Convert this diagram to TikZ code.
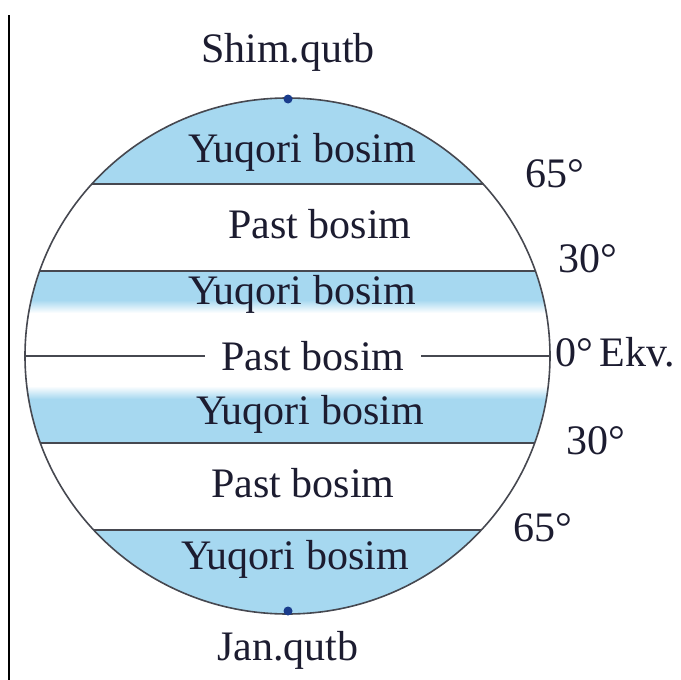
\documentclass[tikz,border=0pt]{standalone}
\usepackage{fontspec}
\setmainfont{Liberation Serif}
\usetikzlibrary{positioning}
\definecolor{beltblue}{RGB}{166,216,240}
\definecolor{inkblue}{RGB}{28,28,48}
\definecolor{linegray}{RGB}{70,72,80}
\definecolor{poleblue}{RGB}{25,60,140}

\begin{document}
\begin{tikzpicture}[
    x=0.5pt, y=-0.5pt,
    lbl/.style={font=\fontsize{21}{24}\selectfont, text=inkblue, inner sep=0pt},
    lat/.style={draw=linegray, line width=1pt},
    rim/.style={draw=linegray, line width=0.8pt}
]
    \useasboundingbox (0,0) rectangle (681,680);

    % page edge on the left
    \draw[line width=1pt] (9,15) -- (9,680);

    % pressure belts, kept inside the globe
    \begin{scope}
        \clip (287.5,356) ellipse [x radius=262.5, y radius=258];
        \fill[beltblue] (0,90) rectangle (681,184);
        \fill[beltblue] (0,271) rectangle (681,300);
        \shade[top color=beltblue, bottom color=white] (0,300) rectangle (681,313);
        \shade[top color=white, bottom color=beltblue] (0,386) rectangle (681,399);
        \fill[beltblue] (0,399) rectangle (681,443);
        \fill[beltblue] (0,530) rectangle (681,620);
        % latitude lines
        \draw[lat] (0,184) -- (681,184);
        \draw[lat] (0,271) -- (681,271);
        \draw[lat] (0,443) -- (681,443);
        \draw[lat] (0,530) -- (681,530);
    \end{scope}

    % globe outline and poles
    \draw[rim] (287.5,356) ellipse [x radius=262.5, y radius=258];
    \fill[poleblue] (288,99) circle [radius=4.5];
    \fill[poleblue] (288,611) circle [radius=4.5];

    % pole names
    \node[lbl] (npole) at (288,52) {Shim.qutb};
    \node[lbl] (spole) at (288,650) {Jan.qutb};

    % belt names
    \node[lbl] (high1) at (302,152) {Yuqori bosim};
    \node[lbl] (low1) at (320,224) {Past bosim};
    \node[lbl] (high2) at (302,294) {Yuqori bosim};
    \node[lbl, inner xsep=8pt] (lowEq) at (313,356) {Past bosim};
    \node[lbl] (high3) at (310,414) {Yuqori bosim};
    \node[lbl] (low3) at (303,483) {Past bosim};
    \node[lbl] (high4) at (295,559) {Yuqori bosim};

    % equator split by its label
    \coordinate (eqW) at (25,356);
    \coordinate (eqE) at (550,356);
    \draw[lat] (eqW) -- (lowEq);
    \draw[lat] (lowEq) -- (eqE);

    % latitudes on the right
    \node[lbl] (lat65n) at (555,174) {65°};
    \node[lbl] (lat30n) at (588,259) {30°};
    \node[lbl, anchor=west] (ekv) at (555,352) {0°\hspace{0.15em}Ekv.};
    \node[lbl] (lat30s) at (596,441) {30°};
    \node[lbl] (lat65s) at (543,528) {65°};
\end{tikzpicture}
\end{document}
